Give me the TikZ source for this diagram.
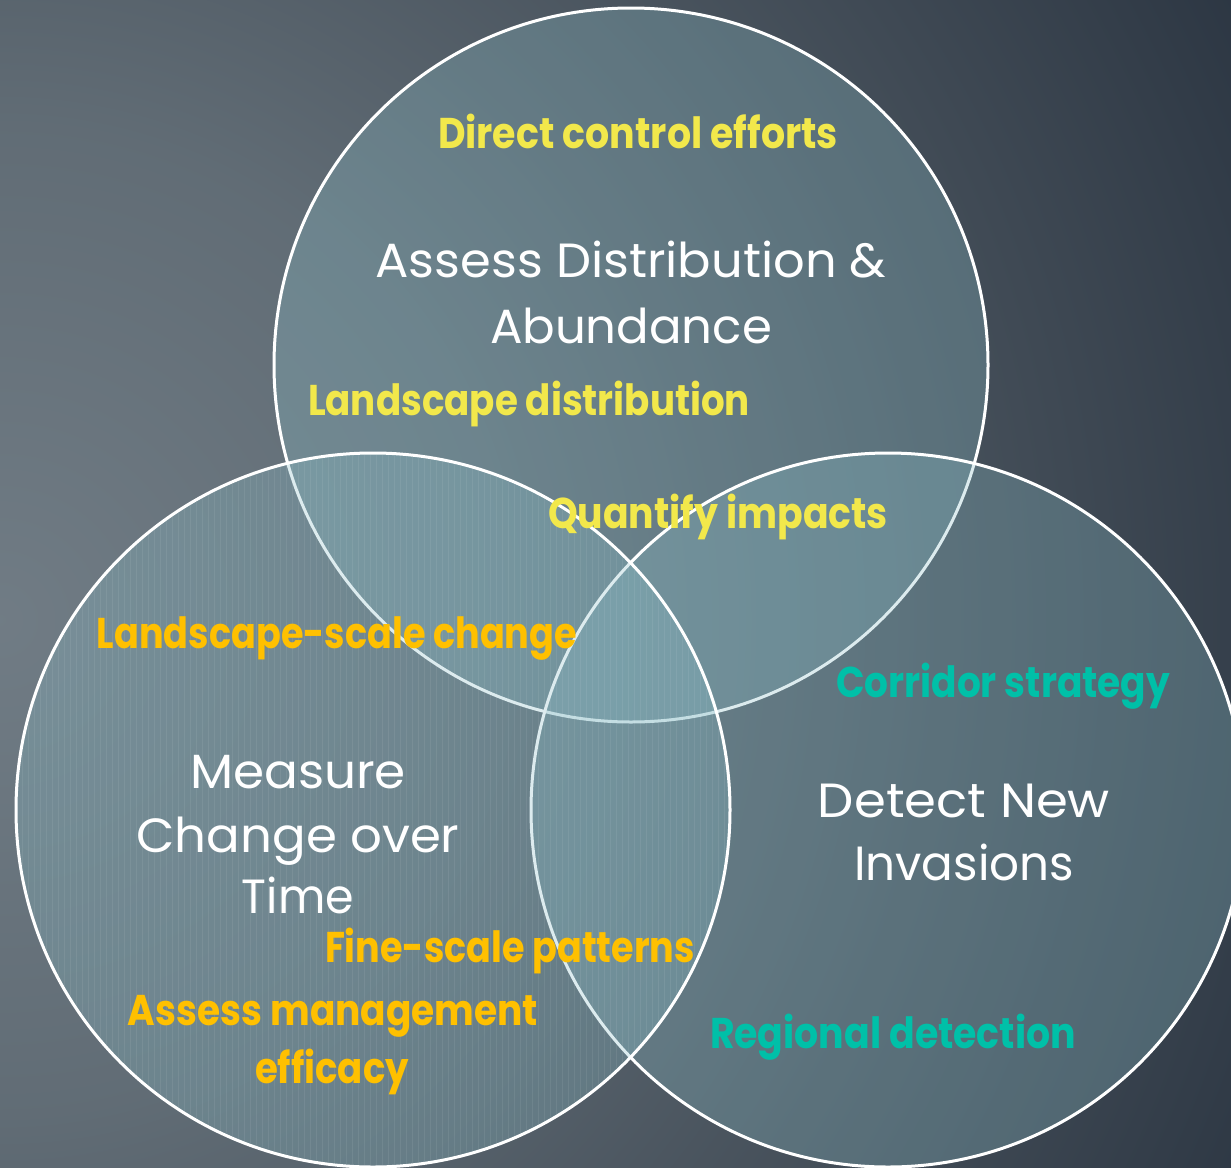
\documentclass[tikz,border=0pt]{standalone}
\usepackage{fontspec}
\setmainfont{Poppins}
\usepackage{graphicx}

% squeeze a line of text to a given width, keeping its height
\newcommand{\fitto}[2]{\resizebox{#1}{\height}{#2}}

\definecolor{ylw}{RGB}{242,232,75}
\definecolor{amber}{RGB}{255,192,0}
\definecolor{teal}{RGB}{0,192,168}
\definecolor{vennfill}{RGB}{140,190,200}

% the path boundary sits at 25bp
\pgfdeclareradialshading{bgglow}{\pgfpoint{0bp}{0bp}}{%
  rgb(0bp)=(0.44,0.485,0.52);
  rgb(8.5bp)=(0.38,0.425,0.46);
  rgb(16bp)=(0.28,0.32,0.36);
  rgb(25bp)=(0.16,0.20,0.25);
  rgb(50bp)=(0.16,0.20,0.25)}

\begin{document}
\begin{tikzpicture}[x=1pt,y=-1pt,
  venn/.style={circle, draw=white, line width=3pt, fill=vennfill,
    fill opacity=0.3, minimum size=714pt, inner sep=0pt},
  title/.style={text=white, font=\fontsize{48}{48}\selectfont,
    anchor=base, inner sep=0pt},
  keyword/.style={font=\bfseries\fontsize{43}{43}\selectfont,
    anchor=base, inner sep=0pt},
  ylwlbl/.style={keyword, text=ylw},
  amberlbl/.style={keyword, text=amber},
  teallbl/.style={keyword, text=teal}]

\useasboundingbox (0,0) rectangle (1231,1167);
\clip (0,0) rectangle (1231,1167);

% background glow
\shade[shading=bgglow] (0,620) circle (1450);

% the three sets, drawn bottom to top
\node[venn] (distrib) at (631,365) {};
\node[venn] (detect)  at (888,810) {};
\node[venn] (change)  at (373,810) {};

% fine vertical ribbing inside the change-over-time set
\begin{scope}
  \clip (373,810) circle (355);
  \foreach \xx in {16,22,...,730}
    \draw[white, opacity=0.07, line width=0.8pt] (\xx,450) -- (\xx,1167);
\end{scope}

% set titles
\node[title] (distA) at (631,277) {\fitto{511pt}{Assess Distribution \&}};
\node[title] (distB) at (631,343) {\fitto{282pt}{Abundance}};
\node[title] (chgA) at (298,788) {\fitto{216pt}{Measure}};
\node[title] (chgB) at (298,852) {\fitto{323pt}{Change over}};
\node[title] (chgC) at (298,913) {\fitto{112pt}{Time}};
\node[title] (detA) at (964,817) {\fitto{292pt}{Detect New}};
\node[title] (detB) at (964,880) {\fitto{220pt}{Invasions}};

% applications
\node[ylwlbl] (direct) at (638,148) {\fitto{400pt}{Direct control efforts}};
\node[ylwlbl] (landdist) at (529,415) {\fitto{442pt}{Landscape distribution}};
\node[ylwlbl] (quantify) at (718,528) {\fitto{340pt}{Quantify impacts}};
\node[amberlbl] (landchg) at (337,648) {\fitto{480pt}{Landscape-scale change}};
\node[amberlbl] (fine) at (510,962) {\fitto{370pt}{Fine-scale patterns}};
\node[amberlbl] (mgmtA) at (333,1025) {\fitto{410pt}{Assess management}};
\node[amberlbl] (mgmtB) at (332,1083) {\fitto{154pt}{efficacy}};
\node[teallbl] (corridor) at (1003,697) {\fitto{334pt}{Corridor strategy}};
\node[teallbl] (regional) at (893,1048) {\fitto{366pt}{Regional detection}};
\end{tikzpicture}
\end{document}
